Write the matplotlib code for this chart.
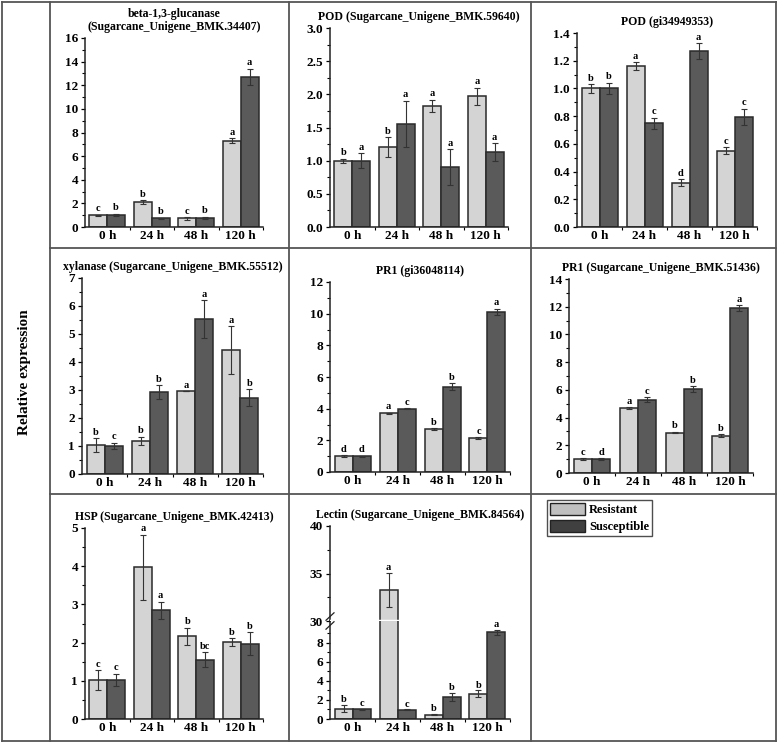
import matplotlib
matplotlib.use('Agg')
import matplotlib.pyplot as plt
from matplotlib.lines import Line2D
from matplotlib.patches import Patch
import numpy as np

plt.rcParams['font.family'] = ['Liberation Serif', 'DejaVu Serif']
plt.rcParams['font.weight'] = 'bold'

times = ['0 h', '24 h', '48 h', '120 h']

titles = ['beta-1,3-glucanase\n(Sugarcane_Unigene_BMK.34407)',
          'POD (Sugarcane_Unigene_BMK.59640)',
          'POD (gi34949353)',
          'xylanase (Sugarcane_Unigene_BMK.55512)',
          'PR1 (gi36048114)',
          'PR1 (Sugarcane_Unigene_BMK.51436)',
          'HSP (Sugarcane_Unigene_BMK.42413)',
          'Lectin (Sugarcane_Unigene_BMK.84564)']

res = [[1.0, 2.1, 0.72, 7.3],
       [1.0, 1.2, 1.83, 1.97],
       [1.0, 1.16, 0.32, 0.55],
       [1.02, 1.17, 2.95, 4.43],
       [1.0, 3.7, 2.7, 2.15],
       [1.0, 4.67, 2.92, 2.68],
       [1.02, 3.97, 2.17, 2.01],
       [1.1, 33.3, 0.45, 2.65]]
res_err = [[0.05, 0.15, 0.1, 0.2],
           [0.03, 0.15, 0.09, 0.13],
           [0.03, 0.03, 0.025, 0.025],
           [0.25, 0.15, 0.0, 0.85],
           [0.05, 0.05, 0.05, 0.05],
           [0.05, 0.07, 0.05, 0.1],
           [0.25, 0.85, 0.22, 0.1],
           [0.35, 1.8, 0.05, 0.35]]
sus = [[1.0, 0.75, 0.75, 12.7],
       [1.0, 1.55, 0.9, 1.13],
       [1.0, 0.75, 1.27, 0.795],
       [1.0, 2.92, 5.53, 2.72],
       [1.0, 4.0, 5.37, 10.1],
       [1.0, 5.3, 6.05, 11.9],
       [1.02, 2.85, 1.55, 1.97],
       [1.0, 0.95, 2.3, 9.1]]
sus_err = [[0.1, 0.05, 0.1, 0.7],
           [0.11, 0.35, 0.27, 0.13],
           [0.04, 0.04, 0.055, 0.06],
           [0.12, 0.25, 0.68, 0.3],
           [0.03, 0.03, 0.22, 0.2],
           [0.05, 0.15, 0.2, 0.2],
           [0.16, 0.22, 0.2, 0.3],
           [0.03, 0.05, 0.4, 0.3]]
res_letters = [['c', 'b', 'c', 'a'], ['b', 'b', 'a', 'a'], ['b', 'a', 'd', 'c'],
               ['b', 'b', 'a', 'a'], ['d', 'a', 'b', 'c'], ['c', 'a', 'b', 'b'],
               ['c', 'a', 'b', 'b'], ['b', 'a', 'b', 'b']]
sus_letters = [['b', 'b', 'b', 'a'], ['a', 'a', 'a', 'a'], ['b', 'c', 'a', 'c'],
               ['c', 'b', 'a', 'b'], ['d', 'c', 'b', 'a'], ['d', 'c', 'b', 'a'],
               ['c', 'a', 'bc', 'b'], ['c', 'c', 'b', 'a']]
ymax = [16, 3.0, 1.4, 7, 12, 14, 5, None]
ystep = [2, 0.5, 0.2, 1, 2, 2, 1, 2]

c_res = '#d4d4d4'
c_sus = '#5a5a5a'
edge = '#2a2a2a'
TICK_FS = 9.5
LET_FS = 7.5

W, H = 778, 744
fig = plt.figure(figsize=(W / 100, H / 100), dpi=100)

# axes boxes in pixels: x0, x1, ytop, ybottom
boxes = [(85, 263, 38, 227), (330, 508, 28, 227), (577, 757, 33, 227),
         (82, 263, 278, 474), (330, 510, 282, 472), (569, 753, 279, 473),
         (85, 263, 528, 719), (330, 510, 526, 719)]


def px_rect(x0, x1, yt, yb):
    return [x0 / W, 1 - yb / H, (x1 - x0) / W, (yb - yt) / H]


def style_ax(ax):
    ax.spines['top'].set_visible(False)
    ax.spines['right'].set_visible(False)
    for s in ['left', 'bottom']:
        ax.spines[s].set_linewidth(1.1)
        ax.spines[s].set_color('#222222')
    ax.tick_params(axis='y', direction='out', length=3, width=0.9, labelsize=TICK_FS, pad=2)
    ax.tick_params(axis='y', which='minor', direction='out', length=2, width=0.8)
    ax.tick_params(axis='x', which='major', length=0, labelsize=TICK_FS, pad=2)
    ax.tick_params(axis='x', which='minor', direction='out', length=2, width=0.8)
    for lab in ax.get_xticklabels() + ax.get_yticklabels():
        lab.set_fontweight('bold')


def draw_bars(ax, i, w=0.4):
    x = np.arange(len(times))
    ax.bar(x - w / 2, res[i], w, color=c_res, edgecolor=edge, linewidth=1.1, zorder=2)
    ax.bar(x + w / 2, sus[i], w, color=c_sus, edgecolor=edge, linewidth=1.1, zorder=2)
    ax.errorbar(x - w / 2, res[i], yerr=res_err[i], fmt='none', ecolor='#333333',
                elinewidth=0.8, capsize=2, capthick=0.8, zorder=3)
    ax.errorbar(x + w / 2, sus[i], yerr=sus_err[i], fmt='none', ecolor='#333333',
                elinewidth=0.8, capsize=2, capthick=0.8, zorder=3)
    return x


for i in range(7):
    ax = fig.add_axes(px_rect(*boxes[i]))
    x = draw_bars(ax, i)
    ax.set_xlim(-0.5, 3.5)
    ax.set_ylim(0, ymax[i])
    ticks = np.arange(0, ymax[i] + ystep[i] / 2, ystep[i])
    ax.set_yticks(ticks)
    ax.set_yticks(np.arange(ystep[i] / 2, ymax[i], ystep[i]), minor=True)
    if ystep[i] < 1:
        ax.set_yticklabels(['%.1f' % t for t in ticks])
    ax.set_xticks(x)
    ax.set_xticklabels(times)
    ax.set_xticks([0.5, 1.5, 2.5, 3.5], minor=True)
    off = ymax[i] * 0.008
    for j in range(4):
        ax.text(x[j] - 0.2, res[i][j] + res_err[i][j] + off, res_letters[i][j],
                ha='center', va='bottom', fontsize=LET_FS, fontweight='bold')
        ax.text(x[j] + 0.2, sus[i][j] + sus_err[i][j] + off, sus_letters[i][j],
                ha='center', va='bottom', fontsize=LET_FS, fontweight='bold')
    ax.set_title(titles[i], fontsize=8.5, fontweight='bold', pad=6, linespacing=1.1)
    style_ax(ax)

# Lectin panel with broken axis
x0, x1, yt, yb = boxes[7]
ybrk = 621
ax_lo = fig.add_axes(px_rect(x0, x1, ybrk, yb))
ax_hi = fig.add_axes(px_rect(x0, x1, yt, ybrk))
for ax in (ax_lo, ax_hi):
    x = draw_bars(ax, 7)
    ax.set_xlim(-0.5, 3.5)
ax_lo.set_ylim(0, 10.3)
ax_hi.set_ylim(30, 40)
ax_lo.set_yticks([0, 2, 4, 6, 8])
ax_lo.set_yticks([1, 3, 5, 7, 9], minor=True)
ax_hi.set_yticks([30, 35, 40])
ax_hi.set_yticks([32.5, 37.5], minor=True)
ax_lo.set_xticks(x)
ax_lo.set_xticklabels(times)
ax_lo.set_xticks([0.5, 1.5, 2.5, 3.5], minor=True)
ax_hi.set_xticks([])
ax_hi.set_xticks([], minor=True)
style_ax(ax_lo)
style_ax(ax_hi)
ax_hi.spines['bottom'].set_visible(False)
ax_hi.set_title(titles[7], fontsize=8.5, fontweight='bold', pad=6)
for j in range(4):
    for val, err, lab, dx in ((res[7][j], res_err[7][j], res_letters[7][j], -0.2),
                              (sus[7][j], sus_err[7][j], sus_letters[7][j], 0.2)):
        target = ax_hi if val > 30 else ax_lo
        target.text(x[j] + dx, val + err + 0.1, lab, ha='center', va='bottom',
                    fontsize=LET_FS, fontweight='bold')
# white gap across the broken bar and break mark on the axis
ax_hi.axhline(30, color='white', lw=2.5, zorder=4)
for dy in (-0.006, 0.006):
    fig.add_artist(Line2D([(x0 - 4) / W, (x0 + 4) / W],
                          [1 - ybrk / H + dy - 0.005, 1 - ybrk / H + dy + 0.005],
                          color='#222222', lw=0.9))

# legend
handles = [Patch(facecolor='#c0c0c0', edgecolor='#222222', label='Resistant'),
           Patch(facecolor='#404040', edgecolor='#222222', label='Susceptible')]
fig.legend(handles=handles, loc='upper left', bbox_to_anchor=(547 / W, 1 - 500 / H),
           frameon=True, fancybox=False, edgecolor='#222222', fontsize=9,
           handlelength=2.8, handleheight=1.1, handletextpad=0.3, labelspacing=0.25,
           borderpad=0.25, borderaxespad=0)

fig.text(25 / W, 1 - 372 / H, 'Relative expression', rotation=90, ha='center',
         va='center', fontsize=11, fontweight='bold')

# frame lines
fc = '#555555'
for xv in (2, 50, 289, 531, 776):
    fig.add_artist(Line2D([xv / W, xv / W], [1 - 2 / H, 1 - 741 / H], color=fc, lw=1.3))
for yv in (2, 741):
    fig.add_artist(Line2D([2 / W, 776 / W], [1 - yv / H, 1 - yv / H], color=fc, lw=1.3))
for yv in (248, 494):
    fig.add_artist(Line2D([50 / W, 776 / W], [1 - yv / H, 1 - yv / H], color=fc, lw=1.3))

fig.savefig('out.png', dpi=100)
